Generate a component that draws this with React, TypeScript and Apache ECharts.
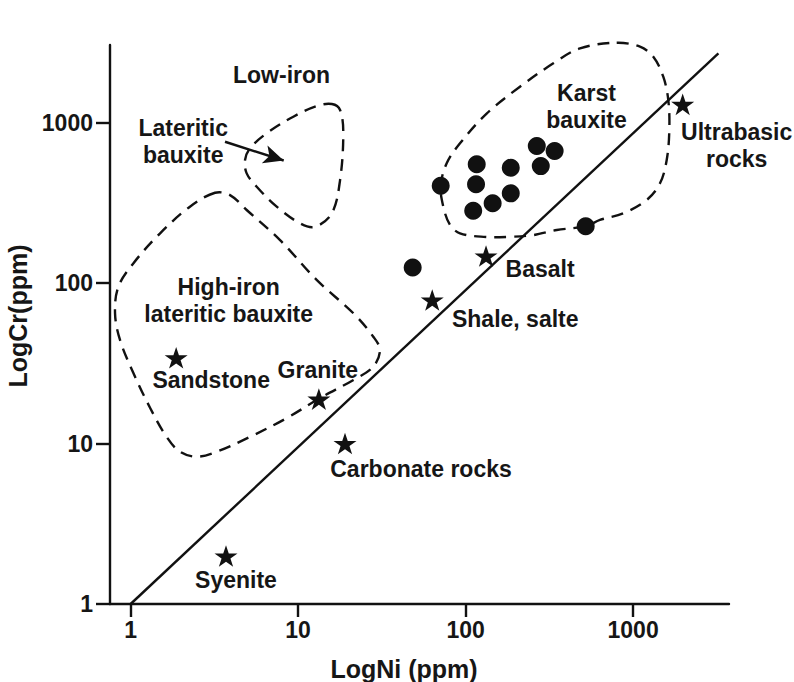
import React, { useEffect, useRef } from 'react';
import * as echarts from 'echarts';

// ---- axis ticks ----
const xTickValues = [1, 10, 100, 1000];
const yTickValues = [1, 10, 100, 1000];

// ---- karst bauxite samples (Ni ppm, Cr ppm) ----
const bauxiteNi = [71, 116.5, 115.4, 111, 145, 186, 186, 266, 340, 281, 521, 48.3];
const bauxiteCr = [404, 549, 412, 282, 314, 523, 362, 714, 664, 535, 226, 125];

// ---- reference rocks ----
const rockNames = ['Ultrabasic\nrocks', 'Basalt', 'Shale, salte', 'Granite', 'Sandstone', 'Carbonate rocks', 'Syenite'];
const rockNi = [1977, 132.4, 63.2, 13.3, 1.87, 19.05, 3.71];
const rockCr = [1298, 147.3, 78.3, 18.9, 34.2, 10.0, 1.99];

// ---- 1:1-ish trend line ----
const trendNi = [1, 3230];
const trendCr = [1, 2700];

// ---- field outlines [Ni, Cr] ----
const lowIronOutline = [
  [15.9, 1304], [17.8, 1197], [18.6, 857], [17.8, 438], [15.9, 272], [12.6, 224], [10.3, 235],
  [7.45, 299], [5.66, 398], [4.93, 482], [4.82, 584], [5.16, 691], [6.49, 857], [9.36, 1087], [12.9, 1267],
];
const highIronOutline = [
  [3.19, 365], [2.26, 299], [1.5, 204], [1.04, 133], [0.845, 94.8], [0.807, 64.7], [0.864, 44.2],
  [1.04, 27.4], [1.31, 16.6], [1.64, 11.0], [1.97, 8.89], [2.48, 8.27], [3.27, 8.89], [5.16, 11.0],
  [8.55, 14.4], [13.5, 19.2], [21.4, 24.9], [28.1, 30.1], [30.8, 38.3], [28.1, 46.3], [21.4, 64.7],
  [12.9, 104.5], [7.8, 185], [4.93, 285], [3.92, 353],
];
const karstOutline = [
  [798, 3142], [1099, 2967], [1320, 2570], [1514, 1929], [1622, 1380], [1645, 898], [1587, 584],
  [1447, 418], [1205, 329], [874, 272], [634, 247], [521, 226], [350, 214], [254, 199], [184, 194],
  [128, 194], [92.6, 204], [80.7, 230], [73.6, 299], [71, 404], [77.1, 557], [92.6, 742], [134, 1141],
  [211, 1671], [334, 2338], [482, 2899],
];

// ---- field labels ----
const regionNames = ['Low-iron', 'Lateritic\nbauxite', 'High-iron\nlateritic bauxite', 'Karst\nbauxite'];
const regionNi = [7.96, 2.06, 3.85, 527];
const regionCr = [1977, 767, 78.3, 1267];

// ---- arrow from "Lateritic bauxite" label into the low-iron field ----
const arrowNi = [3.66, 8.2];
const arrowCr = [759, 580];

// ---- styling (pixel offsets of rock labels relative to their stars) ----
const rockLabelOffsets = [[54, 41], [54, 13], [83, 19], [-1, -29], [35, 22], [76, 25], [10, 24]];

const INK = '#111111';
const TEXT = '#161616';
const FONT = '"Liberation Sans", Arial, Helvetica, sans-serif';
const STAR = 'path://M50,0 L61.8,35.1 L98.9,35.1 L68.9,56.8 L80.3,91.9 L50,70.2 L19.7,91.9 L31.1,56.8 L1.1,35.1 L38.2,35.1 Z';

export default function App() {
  const ref = useRef<HTMLDivElement>(null);

  useEffect(() => {
    if (!ref.current) return;
    const chart = echarts.init(ref.current, undefined, { renderer: 'svg' });
    const outlines = [lowIronOutline, highIronOutline, karstOutline];

    const labelText = {
      color: TEXT,
      fontSize: 23,
      fontWeight: 'bold' as const,
      fontFamily: FONT,
      lineHeight: 27,
      align: 'center' as const,
      verticalAlign: 'middle' as const,
    };
    const tickFormatter = (v: number) => String(v);

    chart.setOption({
      animation: false,
      backgroundColor: '#ffffff',
      textStyle: { fontFamily: FONT },
      grid: { left: 110, right: 65, top: 45, bottom: 78, containLabel: false, outerBoundsMode: 'none' },
      xAxis: {
        type: 'log',
        logBase: 10,
        min: 0.753,
        max: 3737,
        name: 'LogNi (ppm)',
        nameLocation: 'middle',
        nameGap: 52,
        nameTextStyle: { fontSize: 25, fontWeight: 'bold', color: TEXT, fontFamily: FONT, padding: [0, 31, 0, 0] },
        axisLine: { onZero: false, lineStyle: { color: INK, width: 2.4 } },
        axisTick: { show: true, length: 13, customValues: xTickValues, lineStyle: { color: INK, width: 2.4 } },
        axisLabel: {
          fontSize: 23, fontWeight: 'bold', color: TEXT, fontFamily: FONT, margin: 14,
          customValues: xTickValues, formatter: tickFormatter,
        },
        splitLine: { show: false },
        minorTick: { show: false },
      },
      yAxis: {
        type: 'log',
        logBase: 10,
        min: 1,
        max: 3041,
        name: 'LogCr(ppm)',
        nameLocation: 'middle',
        nameGap: 60,
        nameTextStyle: { fontSize: 25, fontWeight: 'bold', color: TEXT, fontFamily: FONT, padding: [0, 0, 0, 17] },
        axisLine: { onZero: false, lineStyle: { color: INK, width: 2.4 } },
        axisTick: { show: true, length: 14, customValues: yTickValues, lineStyle: { color: INK, width: 2.4 } },
        axisLabel: {
          fontSize: 23, fontWeight: 'bold', color: TEXT, fontFamily: FONT, margin: 17,
          customValues: yTickValues, formatter: tickFormatter,
        },
        splitLine: { show: false },
        minorTick: { show: false },
      },
      series: [
        {
          type: 'custom',
          name: 'Fields',
          coordinateSystem: 'cartesian2d',
          silent: true,
          z: 1,
          data: outlines.map((o) => o[0]),
          renderItem: (params: any, api: any) => {
            const pts = outlines[params.dataIndex].map((p) => api.coord(p));
            return {
              type: 'polygon',
              shape: { points: pts, smooth: 0.35 },
              style: { fill: 'none', stroke: INK, lineWidth: 2.4, lineDash: [12, 8] },
            };
          },
        },
        {
          type: 'line',
          name: 'Trend',
          data: trendNi.map((x, i) => [x, trendCr[i]]),
          symbol: 'none',
          silent: true,
          z: 2,
          lineStyle: { color: INK, width: 2.4 },
        },
        {
          type: 'scatter',
          name: 'Karst bauxite',
          data: bauxiteNi.map((x, i) => [x, bauxiteCr[i]]),
          symbol: 'circle',
          symbolSize: 18,
          itemStyle: { color: INK, opacity: 1 },
          z: 3,
        },
        {
          type: 'scatter',
          name: 'Rocks',
          clip: false,
          symbol: STAR,
          symbolKeepAspect: true,
          symbolSize: 23,
          itemStyle: { color: INK, opacity: 1 },
          z: 3,
          data: rockNames.map((n, i) => ({
            name: n,
            value: [rockNi[i], rockCr[i]],
            label: { offset: rockLabelOffsets[i] },
          })),
          label: { show: true, position: 'inside', formatter: '{b}', ...labelText },
        },
        {
          type: 'scatter',
          name: 'Field labels',
          clip: false,
          symbolSize: 0,
          itemStyle: { color: INK, opacity: 1 },
          silent: true,
          z: 4,
          data: regionNames.map((n, i) => ({ name: n, value: [regionNi[i], regionCr[i]] })),
          label: { show: true, position: 'inside', formatter: '{b}', ...labelText },
          markLine: {
            silent: true,
            symbol: ['none', 'arrow'],
            symbolSize: [14, 20],
            label: { show: false },
            lineStyle: { color: INK, width: 2.4, type: 'solid', opacity: 1 },
            data: [[{ coord: [arrowNi[0], arrowCr[0]] }, { coord: [arrowNi[1], arrowCr[1]] }]],
          },
        },
      ],
    });

    return () => chart.dispose();
  }, []);

  return (
    <div
      ref={ref}
      style={{ position: 'absolute', left: 0, top: 0, width: 794, height: 682, background: '#fff' }}
    />
  );
}
